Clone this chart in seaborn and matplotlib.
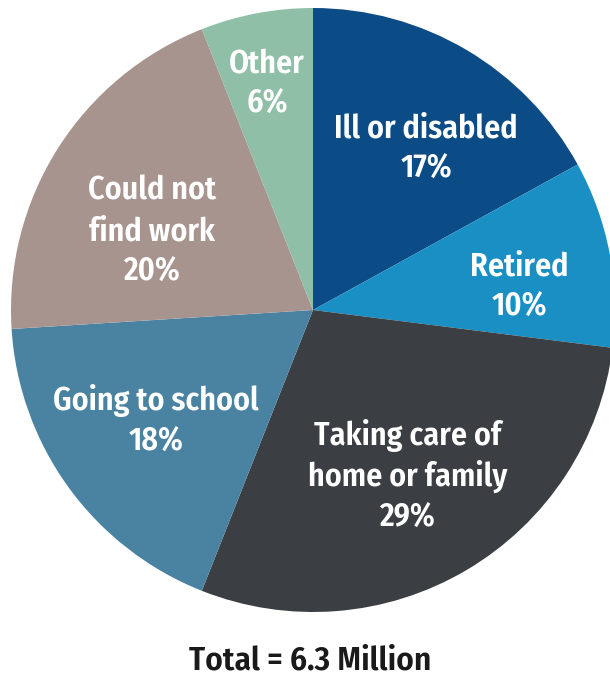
import matplotlib
matplotlib.use("Agg")
import matplotlib.pyplot as plt
import seaborn as sns

sns.set_style("white")
plt.rcParams["font.family"] = ["Fira Sans Condensed", "DejaVu Sans"]

# Reasons for not working, share of total (percent), clockwise from 12 o'clock
categories = ["Ill or disabled", "Retired", "Taking care of home or family",
              "Going to school", "Could not find work", "Other"]
shares = [17, 10, 29, 18, 20, 6]
label_lines = [["Ill or disabled"], ["Retired"], ["Taking care of", "home or family"],
               ["Going to school"], ["Could not", "find work"], ["Other"]]
colors = ["#0b4b86", "#1a8fc4", "#3b3f43", "#4a83a1", "#a7948f", "#8fbfa7"]
total_label = "Total = 6.3 Million"

# Label anchors (pixel x centre, baseline y of first line) and layout in pixels
label_anchor = [(426, 137), (519, 275), (408, 445), (156, 410), (152, 199), (267, 72)]
line_gap = 41
cx, cy, r = 313, 310, 302
W, H = 610, 677


def to_data(px, py):
    return (px - cx) / r, (cy - py) / r


fig = plt.figure(figsize=(W / 100, H / 100), dpi=100)
ax = fig.add_axes([0, 0, 1, 1])
ax.pie(shares, colors=colors, startangle=90, counterclock=False,
       radius=1.0, wedgeprops=dict(linewidth=0))
ax.set_xlim(-cx / r, (W - cx) / r)
ax.set_ylim((cy - H) / r, cy / r)
ax.set_aspect("auto")
ax.axis("off")

for lines, value, (px, py) in zip(label_lines, shares, label_anchor):
    for i, txt in enumerate(lines + [f"{value}%"]):
        x, y = to_data(px, py + i * line_gap)
        ax.text(x, y, txt, ha="center", va="baseline", color="white",
                fontsize=23, fontweight=600)

x, y = to_data(310, 669)
ax.text(x, y, total_label, ha="center", va="baseline", color="#1a1a1a",
        fontsize=24, fontweight=600)

fig.savefig("out.png", dpi=100, facecolor="white")
